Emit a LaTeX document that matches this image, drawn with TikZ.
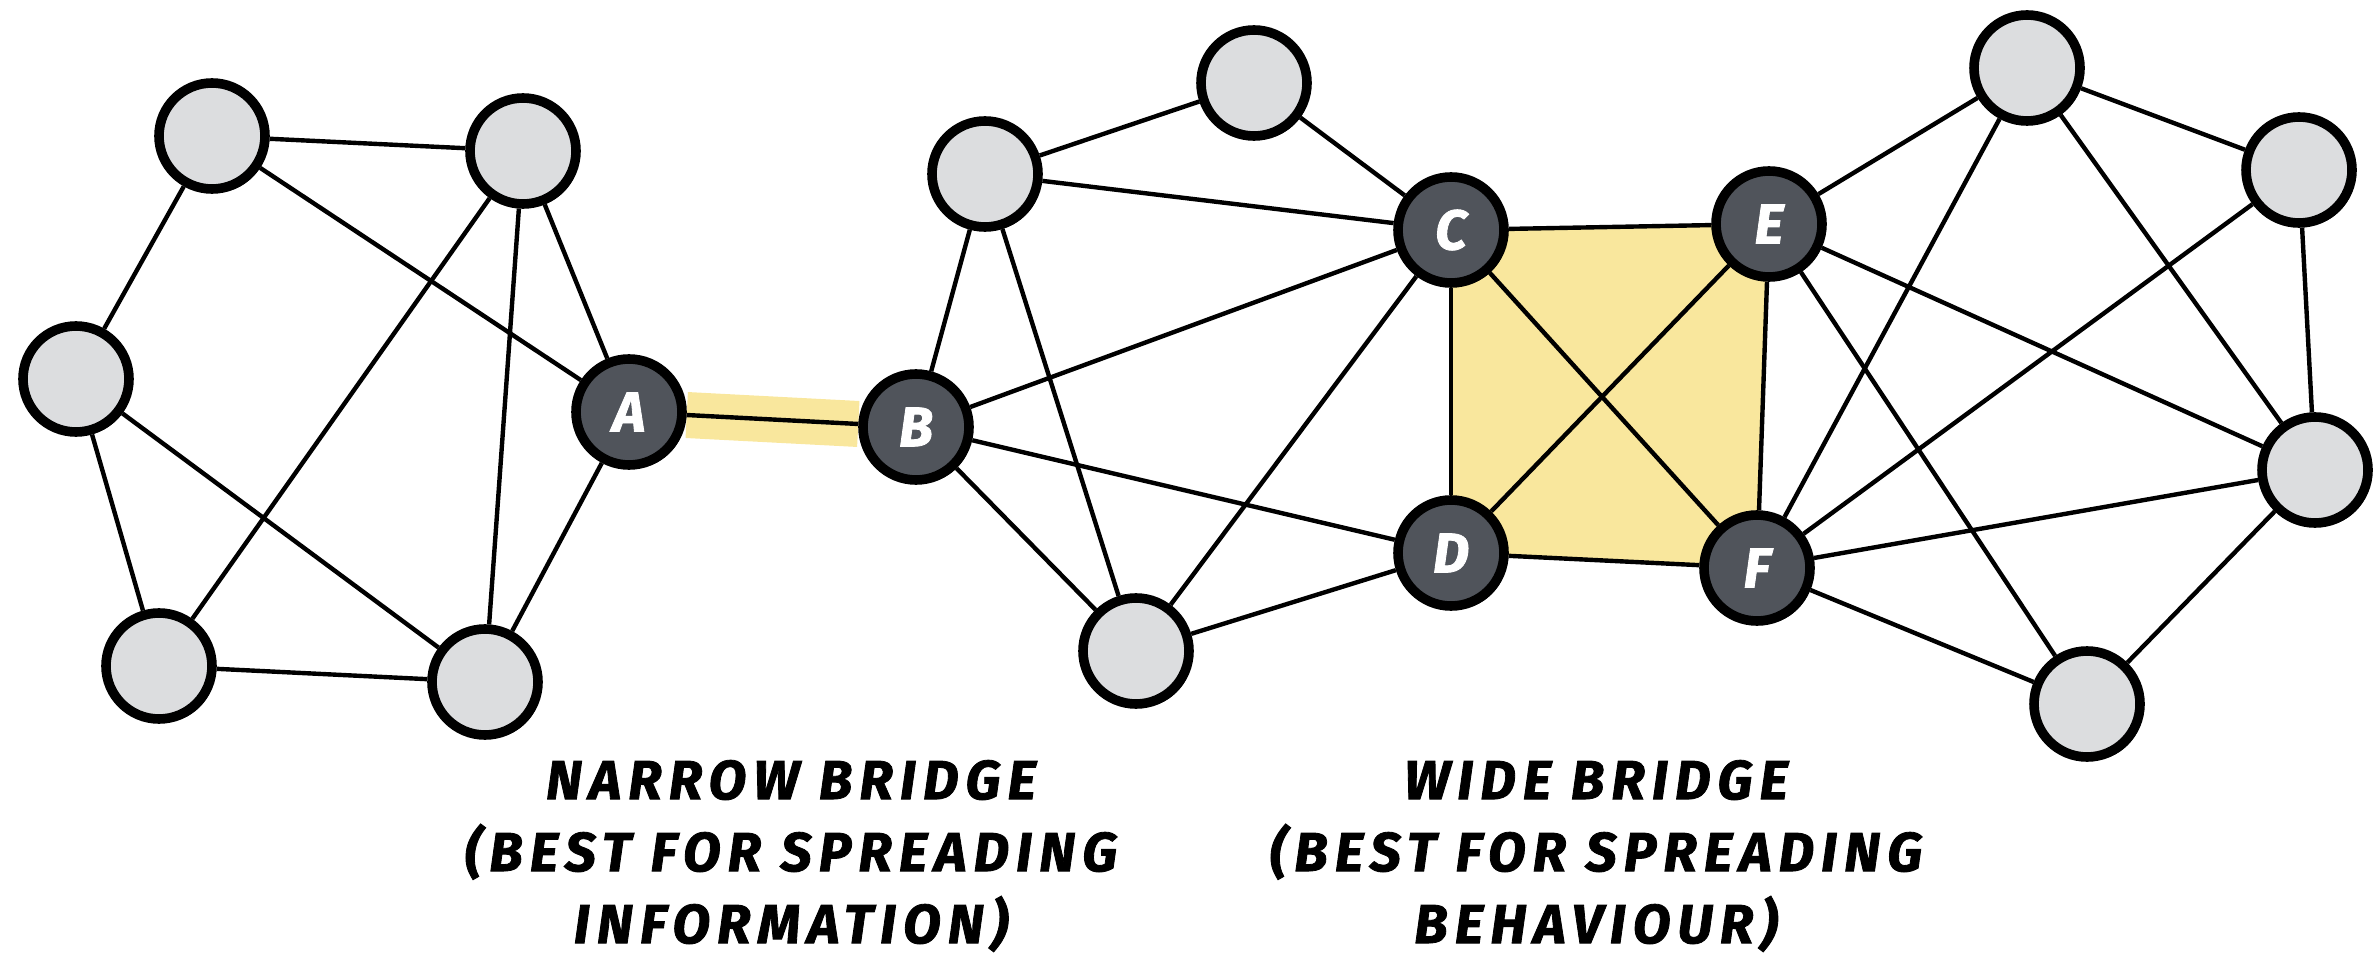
\documentclass[tikz,border=0pt]{standalone}
\usepackage{fontspec}
\newfontfamily\hand{Fira Sans}[LetterSpace=13, BoldItalicFeatures={FakeBold=1.5}]
\newfontfamily\handkey{Fira Sans}[BoldItalicFeatures={FakeBold=1.5}]
\usetikzlibrary{shadows}
\pgfdeclarelayer{bg}
\pgfsetlayers{bg,main}
\definecolor{nodegray}{HTML}{DCDDDF}
\definecolor{nodedark}{HTML}{50545B}
\definecolor{hilite}{HTML}{F9E79D}
\tikzset{
  vtx/.style={circle, draw=black, line width=4.8pt, minimum size=53pt, inner sep=0pt,
    drop shadow={shadow xshift=1.6pt, shadow yshift=-1.8pt, fill=black, opacity=1}},
  plain/.style={vtx, fill=nodegray},
  key/.style={vtx, fill=nodedark, text=white, font=\handkey\bfseries\itshape\fontsize{28}{28}\selectfont},
  edge/.style={line width=2.2pt, black},
  caption/.style={align=center, font=\hand\bfseries\itshape\fontsize{27.5}{36}\selectfont}
}
\begin{document}
\begin{tikzpicture}[x=0.5pt, y=-0.5pt]
\useasboundingbox (0,0) rectangle (2375,962);
% nodes
\node[plain] (L1) at (212,136) {};
\node[plain] (L2) at (523,151) {};
\node[plain] (L3) at (76,379) {};
\node[plain] (L4) at (159,666) {};
\node[plain] (L5) at (485,682) {};
\node[key] (A) at (629,412) {A};
\node[key] (B) at (916,427) {B};
\node[plain] (M1) at (1254,83) {};
\node[plain] (M2) at (985,174) {};
\node[plain] (M3) at (1136,651) {};
\node[key] (C) at (1451,230) {C};
\node[key] (D) at (1451,553) {D};
\node[key] (E) at (1769,224) {E};
\node[key] (F) at (1757,568) {F};
\node[plain] (R1) at (2027,68) {};
\node[plain] (R2) at (2299,170) {};
\node[plain] (R3) at (2315,470) {};
\node[plain] (R4) at (2087,704) {};
% highlights and edges
\begin{pgfonlayer}{bg}
  \fill[hilite] (C.center) -- (E.center) -- (F.center) -- (D.center) -- cycle;
  \draw[hilite, line width=23pt] (A) -- (B);
  \draw[edge] (A) -- (B);
  \foreach \u/\v in {L1/L2, L1/L3, L1/A, L2/A, L2/L4, L2/L5, L3/L4, L3/L5, L4/L5, L5/A,
      B/M2, B/M3, B/C, B/D, M2/M1, M2/C, M2/M3, M1/C, M3/C, M3/D,
      C/D, C/E, C/F, D/E, D/F, E/F,
      E/R1, E/R3, E/R4, F/R1, F/R2, F/R3, F/R4, R1/R2, R1/R3, R2/R3, R3/R4}
    \draw[edge] (\u) -- (\v);
\end{pgfonlayer}
% captions
\node[caption] (cap1) at (791,856) {NARROW BRIDGE\\(BEST FOR SPREADING\\INFORMATION)};
\node[caption] (cap2) at (1596,856) {WIDE BRIDGE\\(BEST FOR SPREADING\\BEHAVIOUR)};
\end{tikzpicture}
\end{document}
